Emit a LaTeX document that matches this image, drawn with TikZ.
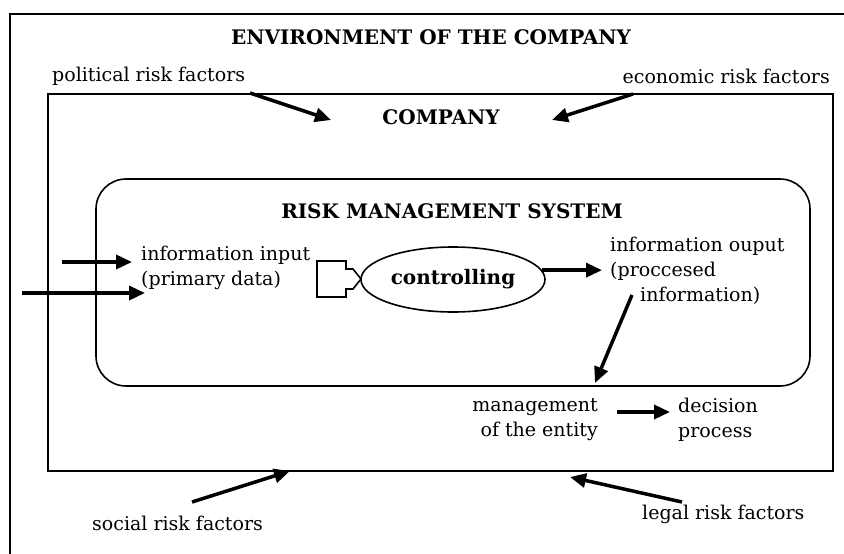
\documentclass[tikz,border=0pt]{standalone}
\usepackage{fontspec}
\setmainfont{DejaVu Serif}
\usetikzlibrary{arrows.meta,shapes.geometric}
\begin{document}
\begin{tikzpicture}[x=1pt,y=-1pt,
  txt/.style={inner sep=0pt,font=\fontsize{19}{25}\selectfont},
  ttl/.style={inner sep=0pt,font=\fontsize{20}{25}\selectfont\bfseries},
  frame/.style={draw,line width=1.6pt},
  arr/.style={line width=3.5pt,-{Triangle[length=16pt,width=14pt]}}]
\useasboundingbox (0,0) rectangle (844,554);
% frames
\draw[frame] (10,570) -- (10,14) -- (860,14);
\draw[frame] (48,94) rectangle (833,471);
\draw[frame,rounded corners=30pt] (96,179) rectangle (810,386);
% titles
\node[ttl] (env) at (431,37) {ENVIRONMENT OF THE COMPANY};
\node[ttl] (comp) at (441,117) {COMPANY};
\node[ttl] (rms) at (452,211) {RISK MANAGEMENT SYSTEM};
% texts
\node[txt,anchor=west] (pol) at (52,76) {political risk factors};
\node[txt,anchor=east] (eco) at (830,76) {economic risk factors};
\node[txt,anchor=west,align=left] (inp) at (141,268) {information input\\(primary data)};
\node[txt,anchor=west,align=left] (outp) at (610,271) {information ouput\\(proccesed\\\hspace*{30pt}information)};
\node[txt,anchor=east,align=right] (mgmt) at (598,420) {management\\of the entity};
\node[txt,anchor=west,align=left] (dec) at (678,420) {decision\\process};
\node[txt,anchor=west] (soc) at (92,523) {social risk factors};
\node[txt,anchor=west] (leg) at (642,514) {legal risk factors};
% controlling
\node[draw,line width=1.6pt,ellipse,minimum width=184pt,minimum height=65pt,inner sep=0pt,
  font=\fontsize{20}{25}\selectfont\bfseries] (ctrl) at (453,279.5) {controlling};
% arrow-shaped box
\draw[line width=1.6pt] (317,261) -- (346,261) -- (346,269) -- (353,269) -- (361,279)
  -- (353,289) -- (346,289) -- (346,297) -- (317,297) -- cycle;
% coordinates
\coordinate (polA) at (250,93); \coordinate (polB) at (331,120);
\coordinate (ecoA) at (633,94); \coordinate (ecoB) at (552,120);
\coordinate (i1A) at (62,262); \coordinate (i1B) at (132,262);
\coordinate (i2A) at (22,293); \coordinate (i2B) at (145,293);
\coordinate (outB) at (602,270);
\coordinate (dnA) at (632,295); \coordinate (dnB) at (595,383);
\coordinate (mdA) at (617,412); \coordinate (mdB) at (670,412);
\coordinate (socA) at (192,502); \coordinate (socB) at (290,471);
\coordinate (legA) at (682,502); \coordinate (legB) at (570,477);
% arrows
\draw[arr] (polA) -- (polB);
\draw[arr] (ecoA) -- (ecoB);
\draw[arr] (i1A) -- (i1B);
\draw[arr] (i2A) -- (i2B);
\draw[arr] (ctrl.6) -- (ctrl.6 -| outB);
\draw[arr] (dnA) -- (dnB);
\draw[arr] (mdA) -- (mdB);
\draw[arr] (socA) -- (socB);
\draw[arr] (legA) -- (legB);
\end{tikzpicture}
\end{document}
